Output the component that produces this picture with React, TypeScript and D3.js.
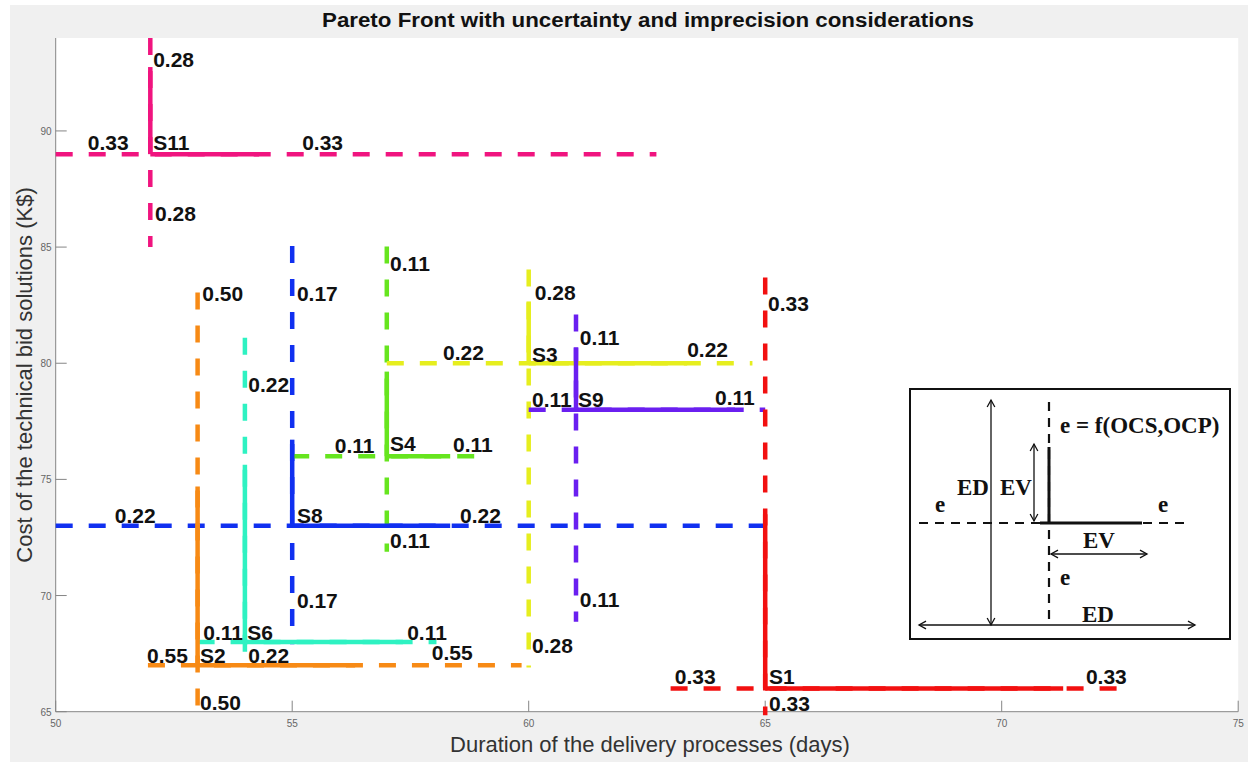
import React from "react";
import * as d3 from "d3";

// ---- data ----
const solutions = ["S11", "S8", "S2", "S6", "S4", "S3", "S9", "S1"];
const colors = ["#f0147f", "#1030f0", "#f78a15", "#2ef2c2", "#66e51e", "#e6ee1e", "#6a1ff0", "#f21010"];
const centerX = [52, 55, 53, 54, 57, 60, 61, 65];
const centerY = [89, 73, 67, 68, 76, 80, 78, 66];
const dashXLow = [50, 50, 51.95, 53, 55, 57, 60, 63];
const dashXHigh = [62.7, 65, 59.85, 58.05, 59.1, 64.73, 65, 72.7];
const solidXHigh = [54.3, 58.34, 56.33, 57.34, 58.34, 63.35, 64.36, 71.3];
const dashYLow = [85, 67.9, 64.85, 66.93, 71.88, 66.9, 68.87, 64.85];
const dashYHigh = [94, 85.05, 83.05, 81.1, 85.03, 84.04, 82.1, 83.69];
const solidYHigh = [92.75, 76.71, 74.69, 75.63, 79.64, 82.66, 80.68, 73.5];
const labelH = ["0.33", "0.22", "0.55", "0.11", "0.11", "0.22", "0.11", "0.33"];
const labelV = ["0.28", "0.17", "0.50", "0.22", "0.11", "0.28", "0.11", "0.33"];

// annotation anchors (data coordinates, left/baseline)
const nameAt = [[52.06, 89.17], [55.1, 73.14], [53.05, 67.1], [54.05, 68.09], [57.07, 76.24], [60.07, 80.07], [61.04, 78.13], [65.08, 66.2]];
const leftAt = [[50.68, 89.17], [51.25, 73.14], [51.93, 67.1], [53.12, 68.09], [55.9, 76.14], [58.19, 80.16], [60.07, 78.13], [63.09, 66.2]];
const rightAt = [[55.21, 89.17], [58.55, 73.14], [57.95, 67.23], [57.43, 68.09], [58.4, 76.19], [63.35, 80.25], [63.94, 78.22], [71.78, 66.2]];
const topAt = [[52.06, 92.75], [55.1, 82.66], [53.1, 82.66], [54.07, 78.78], [57.07, 83.95], [60.13, 82.74], [61.08, 80.8], [65.06, 82.23]];
const bottomAt = [[52.1, 86.11], [55.1, 69.47], [53.05, 65.07], [54.07, 67.1], [57.07, 72.06], [60.07, 67.53], [61.08, 69.51], [65.08, 65.03]];

const xTicks = [50, 55, 60, 65, 70, 75];
const yTicks = [65, 70, 75, 80, 85, 90];
const xDomain = [50, 75];
const yDomain = [65, 94];

const title = "Pareto Front with uncertainty and imprecision considerations";
const xLabel = "Duration of the delivery processes (days)";
const yLabel = "Cost of the technical bid solutions (K$)";

// ---- layout ----
const W = 1248;
const H = 762;
const M = { left: 55.7, right: 1238.2, top: 38, bottom: 711.7 };

function Arrow({ x1, y1, x2, y2 }: { x1: number; y1: number; x2: number; y2: number }) {
  const a = Math.atan2(y2 - y1, x2 - x1);
  const s = 8;
  const w = 0.5;
  const head = (x: number, y: number, ang: number) => {
    const p1 = [x - s * Math.cos(ang - w), y - s * Math.sin(ang - w)];
    const p2 = [x - s * Math.cos(ang + w), y - s * Math.sin(ang + w)];
    return `M${p1[0]},${p1[1]}L${x},${y}L${p2[0]},${p2[1]}`;
  };
  return (
    <g stroke="#111" strokeWidth={1.3} fill="none">
      <line x1={x1} y1={y1} x2={x2} y2={y2} />
      <path d={head(x2, y2, a)} />
      <path d={head(x1, y1, a + Math.PI)} />
    </g>
  );
}

export default function App() {
  const x = d3.scaleLinear().domain(xDomain).range([M.left, M.right]);
  const y = d3.scaleLinear().domain(yDomain).range([M.bottom, M.top]);
  const lw = 4.5;
  const dash = "17,16";
  const lblFont = { fontFamily: "'Liberation Sans', Arial, sans-serif", fontWeight: 700, fontSize: 21, fill: "#111" } as const;
  const serif = { fontFamily: "'Liberation Serif', 'Times New Roman', serif", fontWeight: 700, fontSize: 23, fill: "#111" } as const;

  return (
    <svg width={W} height={H} style={{ position: "absolute", left: 0, top: 0, display: "block" }}>
      <rect x={0} y={0} width={W} height={H} fill="#ffffff" />
      <rect x={10} y={5} width={W - 10} height={H - 5} fill="#f0f0f0" />
      <rect x={M.left} y={M.top} width={M.right - M.left} height={M.bottom - M.top} fill="#ffffff" />

      {/* title */}
      <text x={648} y={27} textAnchor="middle" textLength={652} lengthAdjust="spacingAndGlyphs"
        style={{ fontFamily: "'Liberation Sans', Arial, sans-serif", fontWeight: 700, fontSize: 20, fill: "#111" }}>
        {title}
      </text>

      {/* axes */}
      <g stroke="#858585" strokeWidth={1}>
        <line x1={M.left} y1={M.top} x2={M.left} y2={M.bottom} />
        <line x1={M.left} y1={M.bottom} x2={M.right} y2={M.bottom} />
        {xTicks.map((t) => (
          <line key={"xt" + t} x1={x(t)} x2={x(t)} y1={M.bottom} y2={M.bottom - 11} />
        ))}
        {yTicks.map((t) => (
          <line key={"yt" + t} x1={M.left} x2={M.left + 11} y1={y(t)} y2={y(t)} />
        ))}
      </g>
      <g style={{ fontFamily: "'Liberation Sans', Arial, sans-serif", fontSize: 10, fill: "#666" }}>
        {xTicks.map((t) => (
          <text key={"xl" + t} x={x(t)} y={M.bottom + 15} textAnchor="middle">{t}</text>
        ))}
        {yTicks.map((t) => (
          <text key={"yl" + t} x={M.left - 4} y={y(t) + 4} textAnchor="end">{t}</text>
        ))}
      </g>
      <text x={650} y={752} textAnchor="middle"
        style={{ fontFamily: "'Liberation Sans', Arial, sans-serif", fontSize: 22, fill: "#333" }}>
        {xLabel}
      </text>
      <text transform="translate(32,375) rotate(-90)" textAnchor="middle"
        style={{ fontFamily: "'Liberation Sans', Arial, sans-serif", fontSize: 22, fill: "#333" }}>
        {yLabel}
      </text>

      {/* dashed extents (ED): horizontal drawn left→right, vertical top→bottom */}
      <g fill="none" strokeWidth={lw} strokeDasharray={dash}>
        {solutions.map((s, i) => (
          <g key={"d" + s} stroke={colors[i]}>
            <line x1={x(dashXLow[i])} x2={x(dashXHigh[i])} y1={y(centerY[i])} y2={y(centerY[i])} />
            <line x1={x(centerX[i])} x2={x(centerX[i])} y1={y(dashYHigh[i])} y2={y(dashYLow[i])} />
          </g>
        ))}
      </g>
      {/* solid values (EV) */}
      <g fill="none" strokeWidth={lw}>
        {solutions.map((s, i) => (
          <g key={"s" + s} stroke={colors[i]}>
            <line x1={x(centerX[i])} x2={x(solidXHigh[i])} y1={y(centerY[i])} y2={y(centerY[i])} />
            <line x1={x(centerX[i])} x2={x(centerX[i])} y1={y(centerY[i])} y2={y(solidYHigh[i])} />
          </g>
        ))}
      </g>

      {/* labels */}
      <g style={lblFont}>
        {solutions.map((s, i) => (
          <g key={"l" + s}>
            <text x={x(nameAt[i][0])} y={y(nameAt[i][1])}>{s}</text>
            <text x={x(leftAt[i][0])} y={y(leftAt[i][1])}>{labelH[i]}</text>
            <text x={x(rightAt[i][0])} y={y(rightAt[i][1])}>{labelH[i]}</text>
            <text x={x(topAt[i][0])} y={y(topAt[i][1])}>{labelV[i]}</text>
            <text x={x(bottomAt[i][0])} y={y(bottomAt[i][1])}>{labelV[i]}</text>
          </g>
        ))}
      </g>

      {/* explanatory inset */}
      <g>
        <rect x={910} y={389} width={320} height={250} fill="#ffffff" stroke="#111" strokeWidth={2} />
        <line x1={919} y1={523} x2={1185} y2={523} stroke="#111" strokeWidth={2.2} strokeDasharray="9,7" />
        <line x1={1049} y1={402} x2={1049} y2={620} stroke="#111" strokeWidth={2.2} strokeDasharray="9,7" />
        <line x1={1049} y1={447} x2={1049} y2={524} stroke="#111" strokeWidth={3} />
        <line x1={1040} y1={523} x2={1142} y2={523} stroke="#111" strokeWidth={3} />
        <Arrow x1={991} y1={400} x2={991} y2={625} />
        <Arrow x1={919} y1={625} x2={1195} y2={625} />
        <Arrow x1={1034} y1={444} x2={1034} y2={521} />
        <Arrow x1={1051} y1={554} x2={1147} y2={554} />
        <g style={serif}>
          <text x={1060} y={433}>e = f(OCS,OCP)</text>
          <text x={957} y={495}>ED</text>
          <text x={1000} y={495}>EV</text>
          <text x={935} y={512}>e</text>
          <text x={1158} y={512}>e</text>
          <text x={1083} y={548}>EV</text>
          <text x={1060} y={585}>e</text>
          <text x={1082} y={622}>ED</text>
        </g>
      </g>
    </svg>
  );
}
